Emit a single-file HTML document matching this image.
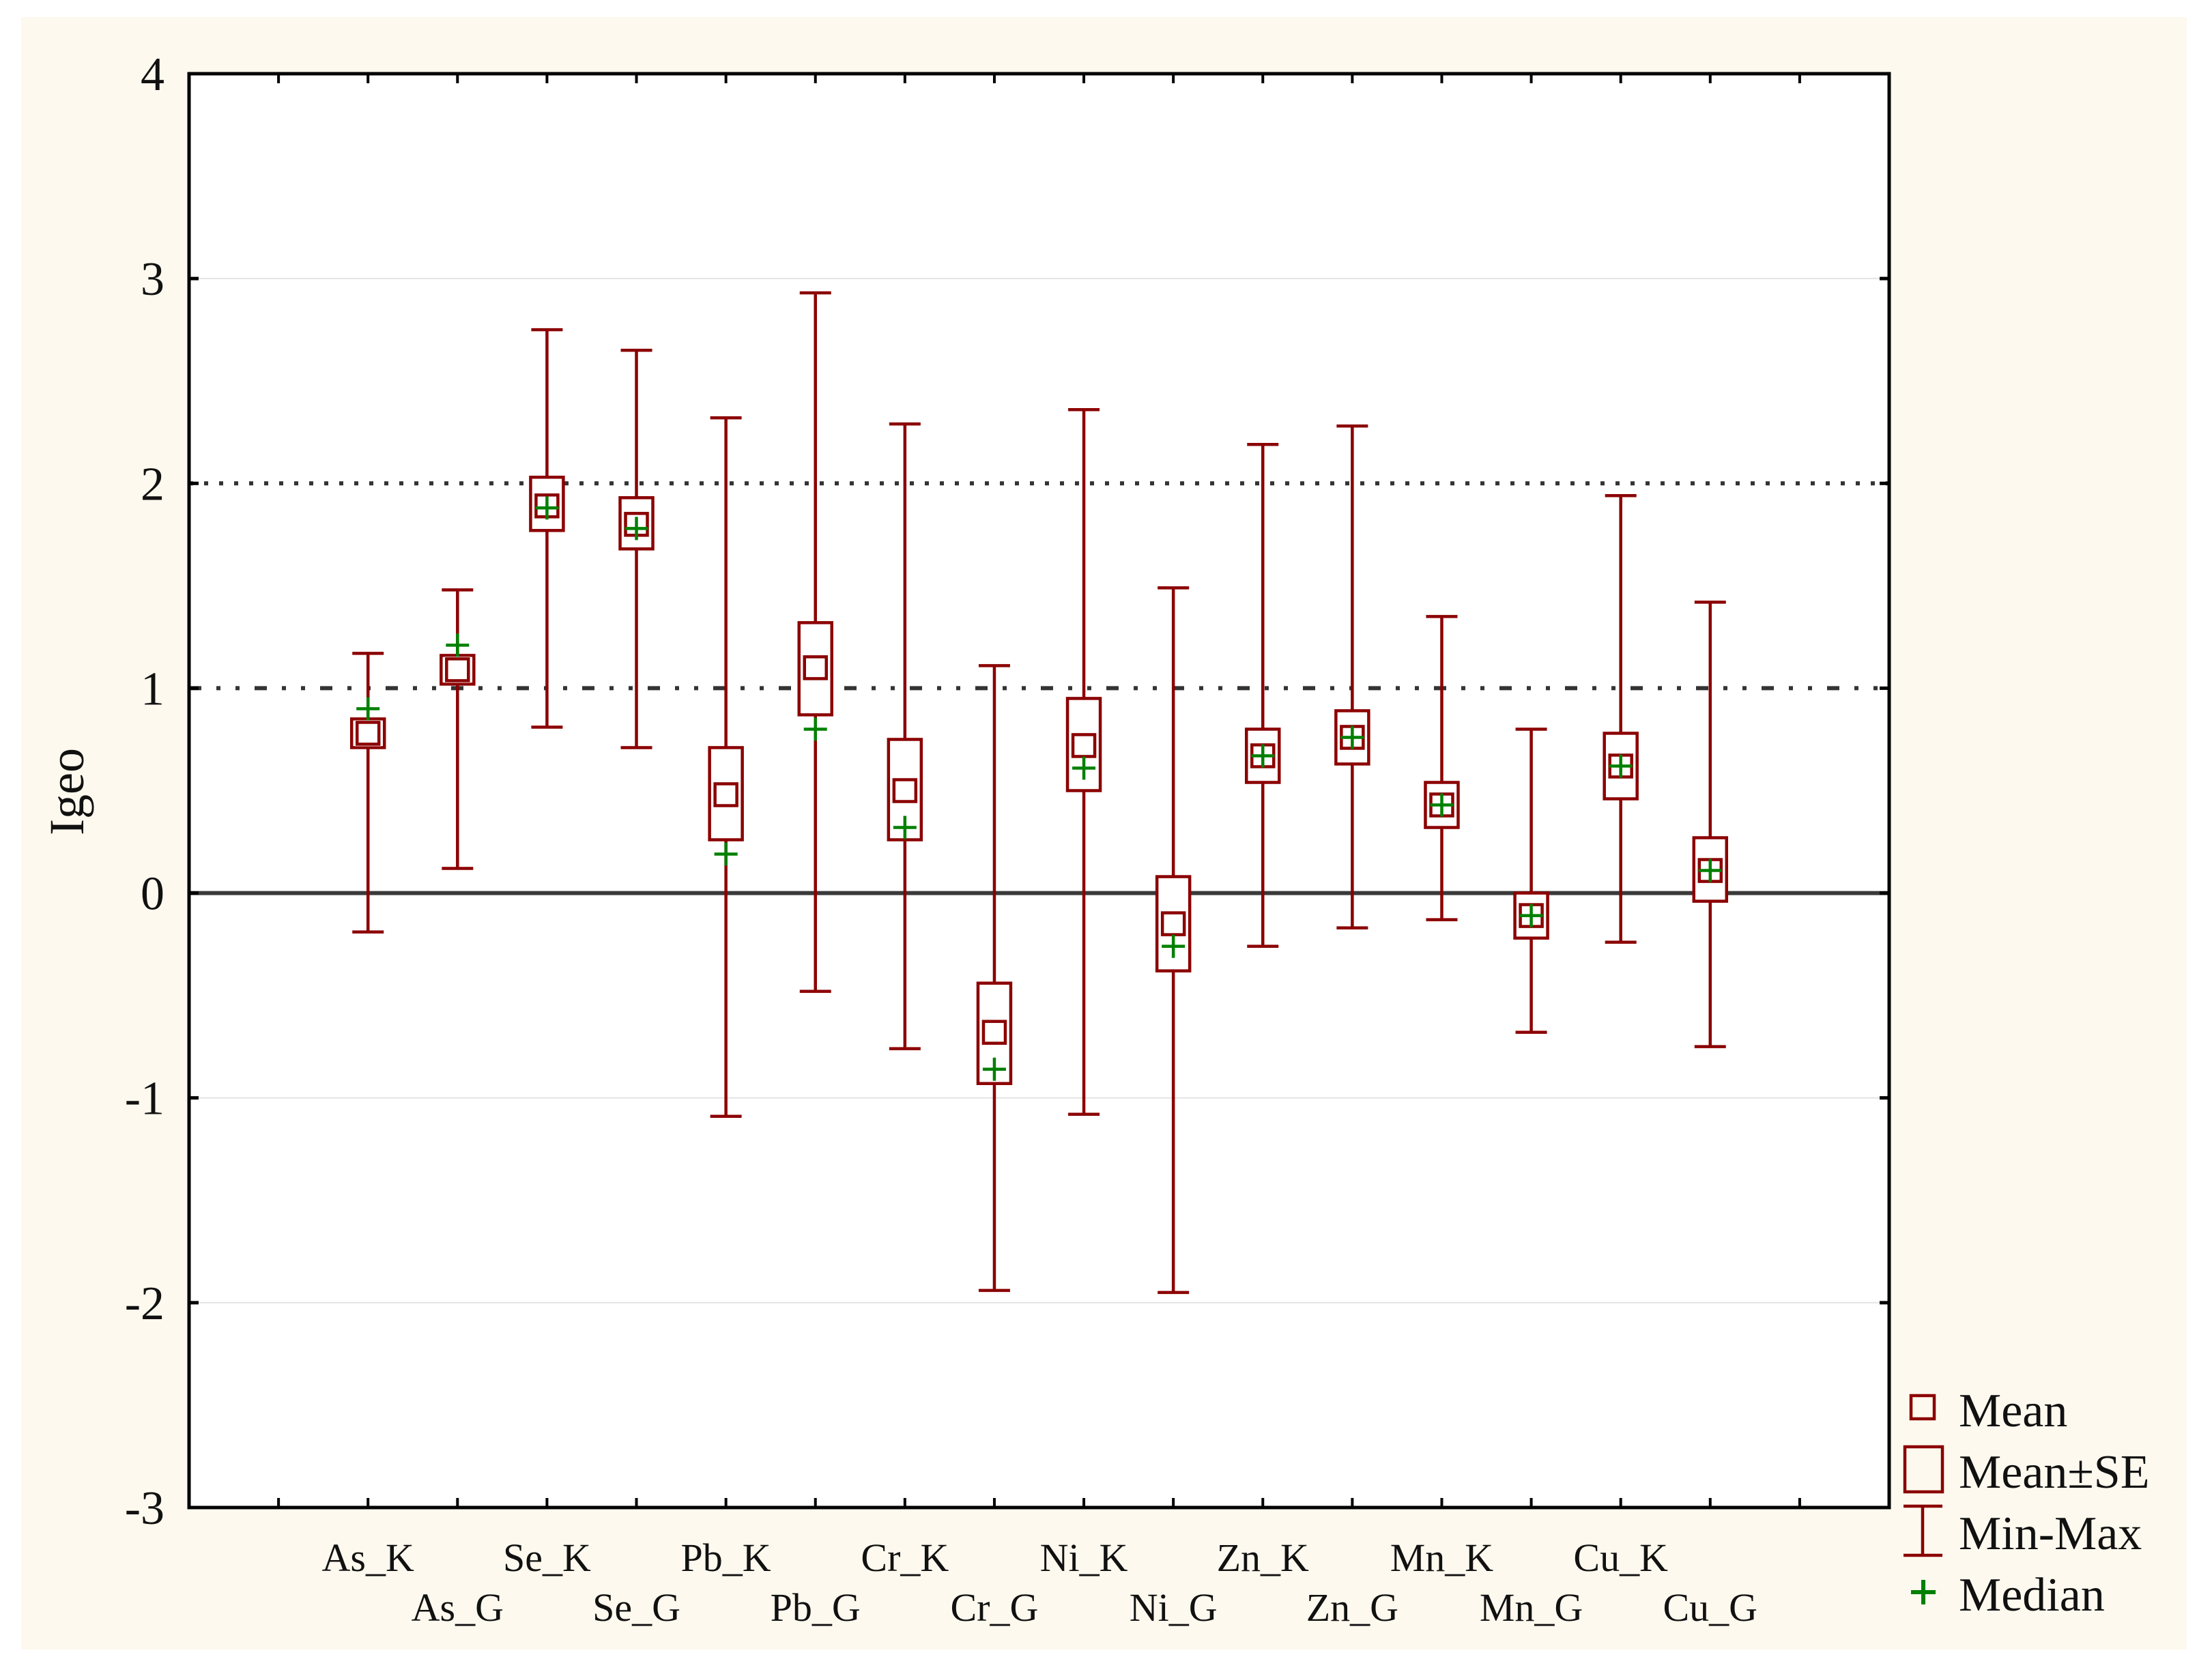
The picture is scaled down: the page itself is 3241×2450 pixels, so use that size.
<!DOCTYPE html>
<html><head><meta charset="utf-8"><style>
html,body{margin:0;padding:0;background:#fff;}
svg{display:block;}
text{font-family:"Liberation Serif",serif;fill:#111;}
</style></head><body>
<svg id="chart" width="3241" height="2450" viewBox="0 0 3241 2450" xmlns="http://www.w3.org/2000/svg">
<rect x="31" y="25" width="3173" height="2392" fill="#fdf9ee"/>
<rect x="277" y="108" width="2491" height="2101" fill="#fff"/>
<g id="grid"></g>
<g id="marks"></g>
<rect x="277" y="108" width="2491" height="2101" fill="none" stroke="#000" stroke-width="5"/>
<g id="axes"></g>
<text transform="translate(122,1160) rotate(-90)" text-anchor="middle" font-size="72">Igeo</text>
<g>
  <rect x="2800" y="2045" width="34" height="34" fill="none" stroke="#8b0000" stroke-width="4.5"/>
  <text x="2870" y="2090" font-size="70">Mean</text>
  <rect x="2791" y="2120" width="55" height="66" fill="none" stroke="#8b0000" stroke-width="4.5"/>
  <text x="2870" y="2180" font-size="70">Mean±SE</text>
  <path d="M2789 2207H2846M2817 2207V2279M2789 2279H2846" fill="none" stroke="#8b0000" stroke-width="4.5"/>
  <text x="2870" y="2270" font-size="70">Min-Max</text>
  <path d="M2800 2333H2836M2818 2315V2351" fill="none" stroke="#008000" stroke-width="6"/>
  <text x="2870" y="2360" font-size="70">Median</text>
</g>
</svg>
<script>
const categories = ["As_K","As_G","Se_K","Se_G","Pb_K","Pb_G","Cr_K","Cr_G","Ni_K","Ni_G","Zn_K","Zn_G","Mn_K","Mn_G","Cu_K","Cu_G"];
const maxVals = [1.17,1.48,2.75,2.65,2.32,2.93,2.29,1.11,2.36,1.49,2.19,2.28,1.35,0.80,1.94,1.42];
const minVals = [-0.19,0.12,0.81,0.71,-1.09,-0.48,-0.76,-1.94,-1.08,-1.95,-0.26,-0.17,-0.13,-0.68,-0.24,-0.75];
const meanVals = [0.78,1.09,1.89,1.80,0.48,1.10,0.50,-0.68,0.72,-0.15,0.67,0.76,0.43,-0.11,0.62,0.11];
const seHigh = [0.85,1.16,2.03,1.93,0.71,1.32,0.75,-0.44,0.95,0.08,0.80,0.89,0.54,0.00,0.78,0.27];
const seLow = [0.71,1.02,1.77,1.68,0.26,0.87,0.26,-0.93,0.50,-0.38,0.54,0.63,0.32,-0.22,0.46,-0.04];
const medianVals = [0.90,1.21,1.88,1.78,0.19,0.80,0.32,-0.86,0.61,-0.26,0.67,0.76,0.43,-0.11,0.62,0.11];
const yTicks = [4,3,2,1,0,-1,-2,-3];

const L=277,R=2768,T=108,B=2209,yMin=-3,yMax=4,nSlots=19;
const slot=(R-L)/nSlots;
function xPos(i){return L+slot*(i+2);}
function yPos(v){return B-(v-yMin)/(yMax-yMin)*(B-T);}
const NS="http://www.w3.org/2000/svg";
function mk(tag,attrs,parent){const e=document.createElementNS(NS,tag);for(const k in attrs)e.setAttribute(k,attrs[k]);parent.appendChild(e);return e;}
const grid=document.getElementById('grid'),marks=document.getElementById('marks'),axes=document.getElementById('axes');

yTicks.forEach(v=>{
  const y=yPos(v);
  let ln;
  if(v===2){ln=mk('line',{x1:L,x2:R,y1:y,y2:y,stroke:'#333','stroke-width':6,'stroke-dasharray':'6 16'},grid);}
  else if(v===1){ln=mk('line',{x1:L,x2:R,y1:y,y2:y,stroke:'#333','stroke-width':6,'stroke-dasharray':'18 22 6 22 6 22'},grid);}
  else if(v===0){ln=mk('line',{x1:L,x2:R,y1:y,y2:y,stroke:'#3a3a3a','stroke-width':6},grid);}
  else {ln=mk('line',{x1:L,x2:R,y1:y,y2:y,stroke:'#e4e4e4','stroke-width':2},grid);}
  
  
  const t1=mk('line',{x1:L,x2:L+14,y1:y,y2:y,stroke:'#000','stroke-width':5},axes);
  
  
  const t2=mk('line',{x1:R-14,x2:R,y1:y,y2:y,stroke:'#000','stroke-width':5},axes);
  
  
  const tx=mk('text',{x:241,y:y+24,'text-anchor':'end','font-size':70},axes);
  tx.textContent=String(v);
  
  
});
for(let i=1;i<nSlots;i++){
  const x=L+slot*i;
  const a=mk('line',{x1:x,x2:x,y1:B,y2:B-14,stroke:'#000','stroke-width':4},axes);
  
  
  const b=mk('line',{x1:x,x2:x,y1:T,y2:T+14,stroke:'#000','stroke-width':4},axes);
  
  
}
const red='#8b0000',green='#008000';
categories.forEach((c,i)=>{
  const x=xPos(i);
  const g=mk('g',{},marks);
  
  
  const yMax_=yPos(maxVals[i]),yMin_=yPos(minVals[i]);
  const w=mk('path',{d:`M${x-23} ${yMax_}H${x+23}M${x} ${yMax_}V${yMin_}M${x-23} ${yMin_}H${x+23}`,fill:'none',stroke:red,'stroke-width':4.5},g);
  
  
  const yh=yPos(seHigh[i]),yl=yPos(seLow[i]);
  const bx=mk('rect',{x:x-24,y:yh,width:48,height:yl-yh,fill:'#fff',stroke:red,'stroke-width':4.5},g);
  
  
  const ym=yPos(meanVals[i]);
  const wm=mk('rect',{x:x-19,y:ym-19,width:38,height:38,fill:'#fff'},g);
  
  
  const m=mk('rect',{x:x-16,y:ym-16,width:32,height:32,fill:'none',stroke:red,'stroke-width':4.5},g);
  
  
  const yd=yPos(medianVals[i]);
  const md=mk('path',{d:`M${x-17} ${yd}H${x+17}M${x} ${yd-17}V${yd+17}`,fill:'none',stroke:green,'stroke-width':4.5},g);
  
  
  const lbl=mk('text',{x:x,y:(i%2===0)?2302:2375,'text-anchor':'middle','font-size':58},axes);
  lbl.textContent=c;
  
  
});
</script>
</body></html>
